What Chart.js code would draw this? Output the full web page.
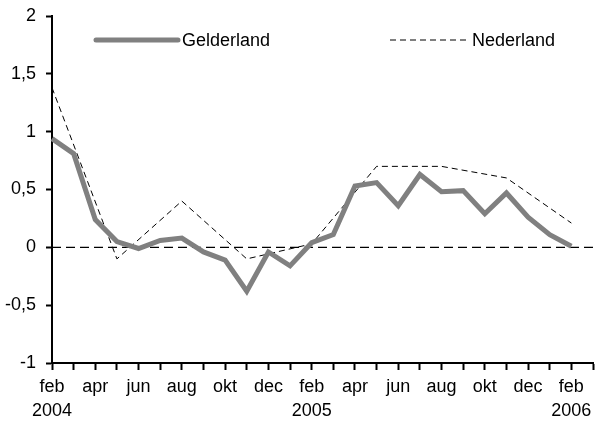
<!DOCTYPE html>
<html>
<head>
<meta charset="utf-8">
<script src="https://cdn.jsdelivr.net/npm/chart.js@4/dist/chart.umd.min.js"></script>
<style>
  html, body { margin: 0; padding: 0; background: #fff; }
  #wrap { width: 598px; height: 422px; }
</style>
</head>
<body>
<div id="wrap"><canvas id="grafiek"></canvas></div>
<script>
// maanden feb 2004 t/m mrt 2006 (laatste positie zonder data)
const maanden = ["feb", "mrt", "apr", "mei", "jun", "jul", "aug", "sep", "okt", "nov", "dec", "jan",
                 "feb", "mrt", "apr", "mei", "jun", "jul", "aug", "sep", "okt", "nov", "dec", "jan",
                 "feb", "mrt"];
const jaren = ["2004", "", "", "", "", "", "", "", "", "", "", "",
               "2005", "", "", "", "", "", "", "", "", "", "", "",
               "2006", ""];

const gelderland = [0.94, 0.81, 0.24, 0.05, -0.01, 0.06, 0.08, -0.04, -0.11, -0.38, -0.04, -0.16,
                    0.04, 0.11, 0.53, 0.56, 0.36, 0.63, 0.48, 0.49, 0.29, 0.47, 0.26, 0.11, 0.01];
const nederland = [1.38, null, null, -0.1, null, null, 0.40, null, null, -0.1, null, null,
                   0.03, null, null, 0.70, null, null, 0.70, null, null, 0.60, null, null, 0.21];

const yTicks = [-1, -0.5, 0, 0.5, 1, 1.5, 2];
const nulWaarde = 0;

const lettertype = "'Liberation Sans', Arial, Helvetica, sans-serif";

// gestippelde nullijn
const nulLijn = {
  id: "nulLijn",
  beforeDatasetsDraw(chart) {
    const { ctx, chartArea, scales } = chart;
    const y = scales.y.getPixelForValue(nulWaarde);
    ctx.save();
    ctx.strokeStyle = "#000";
    ctx.lineWidth = 1.2;
    ctx.setLineDash([9, 5]);
    ctx.beginPath();
    ctx.moveTo(chartArea.left, y);
    ctx.lineTo(chartArea.right, y);
    ctx.stroke();
    ctx.restore();
  }
};

// legenda binnen het plotvlak
const legenda = {
  id: "legenda",
  afterDraw(chart) {
    const { ctx, chartArea } = chart;
    const yy = chartArea.top + 24;
    const items = [
      { x: chartArea.left + 44, len: 82, ds: chart.data.datasets[0] },
      { x: chartArea.left + 338, len: 78, ds: chart.data.datasets[1] }
    ];
    ctx.save();
    items.forEach(it => {
      ctx.strokeStyle = it.ds.borderColor;
      ctx.lineWidth = it.ds.borderWidth;
      ctx.lineCap = it.ds.borderDash ? "butt" : "round";
      ctx.setLineDash(it.ds.borderDash || []);
      ctx.beginPath();
      ctx.moveTo(it.x, yy);
      ctx.lineTo(it.x + it.len, yy);
      ctx.stroke();
      ctx.setLineDash([]);
      ctx.fillStyle = "#000";
      ctx.font = "18px " + lettertype;
      ctx.textBaseline = "middle";
      ctx.fillText(it.ds.label, it.x + it.len + 4, yy + 1);
    });
    ctx.restore();
  }
};

new Chart(document.getElementById("grafiek"), {
  type: "line",
  data: {
    labels: maanden,
    datasets: [{
      label: "Gelderland",
      data: gelderland,
      borderColor: "#808080",
      borderWidth: 5,
      pointRadius: 0,
      tension: 0,
      borderJoinStyle: "miter"
    }, {
      label: "Nederland",
      data: nederland,
      borderColor: "#000",
      borderWidth: 1,
      borderDash: [6, 4],
      pointRadius: 0,
      tension: 0,
      spanGaps: true
    }]
  },
  options: {
    responsive: true,
    maintainAspectRatio: false,
    animation: false,
    layout: { padding: { top: 16, right: 1, left: 0, bottom: 0 } },
    plugins: { legend: { display: false }, tooltip: { enabled: false } },
    scales: {
      x: {
        type: "category",
        offset: false,
        afterFit: (s) => { s.height = 59; },
        grid: { drawOnChartArea: false, drawTicks: true, tickLength: 7, tickColor: "#000", tickWidth: 2 },
        border: { display: true, color: "#000", width: 2 },
        ticks: {
          autoSkip: false,
          maxRotation: 0,
          padding: 5,
          color: "#000",
          font: { family: lettertype, size: 18, lineHeight: 1.35 },
          callback: (v, i) => i % 2 === 0 ? [maanden[i], jaren[i]] : ""
        }
      },
      y: {
        min: -1,
        max: 2,
        afterFit: (s) => { s.width = 52; s.paddingTop = 0; s.paddingBottom = 0; },
        afterBuildTicks: (s) => { s.ticks = yTicks.map(v => ({ value: v })); },
        grid: { drawOnChartArea: false, drawTicks: true, tickLength: 6, tickColor: "#000", tickWidth: 2 },
        border: { display: true, color: "#000", width: 2 },
        ticks: {
          padding: 10,
          color: "#000",
          font: { family: lettertype, size: 18 },
          callback: (v) => String(v).replace(".", ",")
        }
      }
    }
  },
  plugins: [nulLijn, legenda]
});
</script>
</body>
</html>
